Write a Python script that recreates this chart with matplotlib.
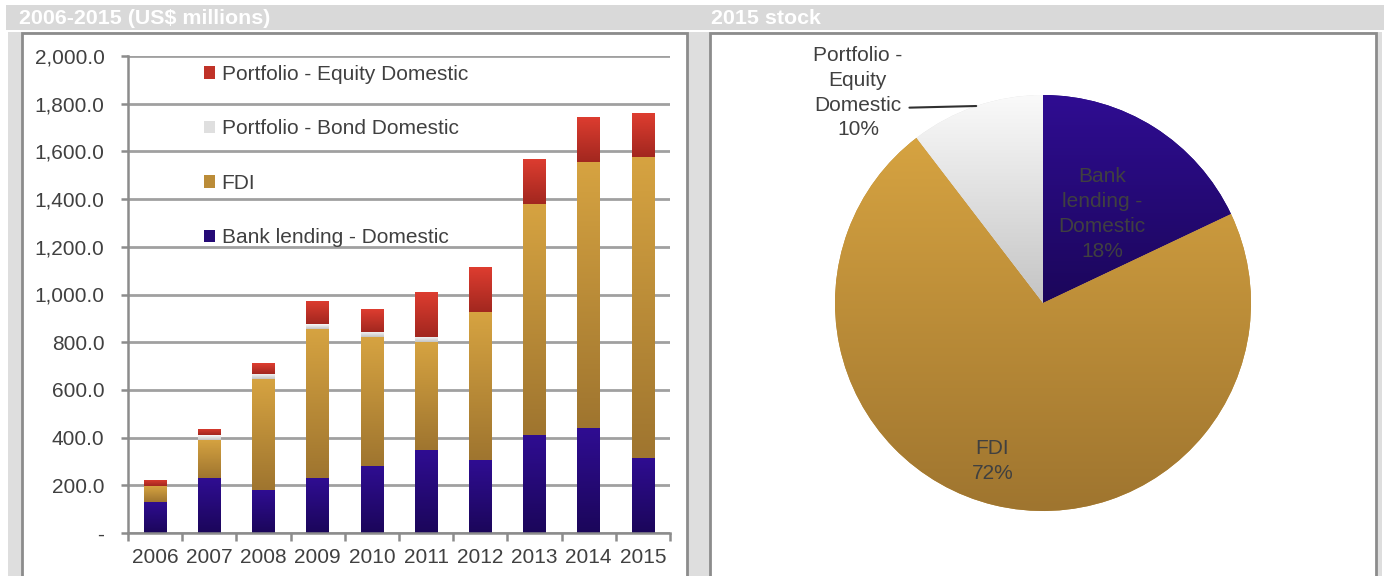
import numpy as np
import matplotlib
matplotlib.use('Agg')
import matplotlib.pyplot as plt
from matplotlib.patches import Rectangle
from matplotlib.colors import LinearSegmentedColormap
from matplotlib.ticker import FuncFormatter, FixedLocator

plt.rcParams['font.family'] = ['Liberation Sans', 'DejaVu Sans']

# data (US$ millions)
years = ['2006', '2007', '2008', '2009', '2010', '2011', '2012', '2013', '2014', '2015']
bank_lending = [130, 230, 180, 230, 281, 348, 306, 411, 440, 316]
fdi = [67, 160, 465, 625, 540, 452, 620, 967, 1114, 1260]
bond = [0, 20, 21, 20, 21, 21, 0, 0, 0, 0]
equity = [27, 26, 46, 97, 96, 189, 188, 189, 189, 183]

series_names = ['Bank lending - Domestic', 'FDI', 'Portfolio - Bond Domestic', 'Portfolio - Equity Domestic']
pie_names = ['Bank\nlending -\nDomestic', 'FDI', 'Portfolio -\nEquity\nDomestic']

W, H = 1387, 576
TXT = '#404040'

# (top colour, bottom colour) for the gradient fills
grad_bank = ('#2f0d92', '#1b065a')
grad_fdi = ('#d6a341', '#9f752f')
grad_bond = ('#fafafa', '#c4c4c4')
grad_equity = ('#de3d30', '#a2271f')


def px_box(x0, y0, x1, y1):
    return [x0 / W, 1 - y1 / H, (x1 - x0) / W, (y1 - y0) / H]


def fill_gradient(ax, patch, top, bottom, ext):
    cmap = LinearSegmentedColormap.from_list('g', [bottom, top])
    grad = np.linspace(0, 1, 128).reshape(-1, 1)
    im = ax.imshow(grad, cmap=cmap, extent=ext, origin='lower', aspect='auto',
                   interpolation='bilinear', zorder=patch.get_zorder() + 0.1)
    im.set_clip_path(patch)


fig = plt.figure(figsize=(W / 100, H / 100), dpi=100)
fig.patch.set_facecolor('white')

# page furniture: header band, grey surround, white boxes
fig.add_artist(Rectangle((6 / W, 1 - 30 / H), 1378 / W, 25 / H, transform=fig.transFigure,
                         facecolor='#d9d9d9', edgecolor='none', zorder=-3))
fig.add_artist(Rectangle((8 / W, 0), 1374 / W, 1 - 32 / H, transform=fig.transFigure,
                         facecolor='#dedede', edgecolor='none', zorder=-3))
for x0, x1 in [(22, 687), (710, 1376)]:
    fig.add_artist(Rectangle((x0 / W, -0.01), (x1 - x0) / W, 1 - 33 / H + 0.01, transform=fig.transFigure,
                             facecolor='white', edgecolor='#8c8c8c', linewidth=2, zorder=-2))
fig.text(19 / W, 1 - 18 / H, '2006-2015 (US$ millions)', color='white', fontweight='bold',
         fontsize=15.4, va='center', ha='left')
fig.text(711 / W, 1 - 18 / H, '2015 stock', color='white', fontweight='bold',
         fontsize=15.4, va='center', ha='left')

# ---- stacked bars ----
ax = fig.add_axes(px_box(128, 56, 670, 533))
ax.patch.set_alpha(0)
x = np.arange(len(years))
width = 0.42
stack = [(bank_lending, grad_bank), (fdi, grad_fdi), (bond, grad_bond), (equity, grad_equity)]
bottom = np.zeros(len(years))
handles = []
for (vals, (top_c, bot_c)), name in zip(stack, series_names):
    mid = LinearSegmentedColormap.from_list('m', [bot_c, top_c])(0.5)
    bars = ax.bar(x, vals, width, bottom=bottom, color=mid, edgecolor='none', label=name, zorder=3)
    for b in bars:
        if b.get_height() > 0:
            fill_gradient(ax, b, top_c, bot_c,
                          [b.get_x(), b.get_x() + b.get_width(), b.get_y(), b.get_y() + b.get_height()])
    handles.append(bars)
    bottom = bottom + np.array(vals)

ax.set_xlim(-0.5, len(years) - 0.5)
ax.set_ylim(0, 2000)
ax.set_yticks(np.arange(0, 2001, 200))
ax.yaxis.set_major_formatter(FuncFormatter(lambda v, p: '-' if v == 0 else f'{v:,.1f}'))
ax.set_xticks(x)
ax.set_xticklabels(years)
ax.xaxis.set_minor_locator(FixedLocator(np.arange(-0.5, len(years), 1.0)))
ax.tick_params(axis='x', which='major', length=0, pad=11, labelsize=15, labelcolor=TXT)
ax.tick_params(axis='x', which='minor', length=6, width=1.8, color='#8c8c8c', direction='out')
ax.tick_params(axis='y', length=5, width=1.8, color='#8c8c8c', pad=12, labelsize=15, labelcolor=TXT)
ax.grid(axis='y', color='#a0a0a0', linewidth=2, zorder=1)
ax.set_axisbelow(True)
for s in ['top', 'right']:
    ax.spines[s].set_visible(False)
for s in ['left', 'bottom']:
    ax.spines[s].set_color('#8c8c8c')
    ax.spines[s].set_linewidth(1.8)
    ax.spines[s].set_zorder(5)

leg = ax.legend(handles[::-1], series_names[::-1], loc='upper left',
                bbox_to_anchor=(204 / W, 1 - 65 / H), bbox_transform=fig.transFigure,
                frameon=False, fontsize=15, labelcolor=TXT, handlelength=0.55, handleheight=0.55,
                handletextpad=0.3, labelspacing=1.7, borderpad=0, borderaxespad=0)

# ---- pie of 2015 stock ----
pie_vals = [bank_lending[-1], fdi[-1], equity[-1]]
pie_grads = [grad_bank, grad_fdi, grad_bond]
pax = fig.add_axes(px_box(835, 95, 1251, 511))
pax.patch.set_alpha(0)
wedges, _ = pax.pie(pie_vals, startangle=90, counterclock=False, radius=1,
                    colors=[LinearSegmentedColormap.from_list('m', [g[1], g[0]])(0.5) for g in pie_grads],
                    wedgeprops=dict(edgecolor='none'))
for w, (top_c, bot_c) in zip(wedges, pie_grads):
    ext = w.get_path().get_extents()
    fill_gradient(pax, w, top_c, bot_c, [ext.x0, ext.x1, ext.y0, ext.y1])
pax.set_aspect('auto')
pax.set_xlim(-1, 1)
pax.set_ylim(-1, 1)
pax.axis('off')

shares = np.array(pie_vals) / sum(pie_vals) * 100
mids = [np.deg2rad((w.theta1 + w.theta2) / 2) for w in wedges]
# bank and FDI labels inside their slices
for i, r, dx, dy in [(0, 0.53, 0.0, -0.02), (1, 0.78, -0.06, 0.0)]:
    pax.text(r * np.cos(mids[i]) + dx, r * np.sin(mids[i]) + dy, f'{pie_names[i]}\n{shares[i]:.0f}%',
             ha='center', va='center', fontsize=15, color=TXT, linespacing=1.38)
# equity label outside with a leader line
edge = (1.0 * np.cos(mids[2]), 1.0 * np.sin(mids[2]))
pax.annotate(f'{pie_names[2]}\n{shares[2]:.0f}%', xy=edge, xytext=(-0.89, 1.01),
             ha='center', va='center', fontsize=15, color=TXT, linespacing=1.38,
             annotation_clip=False,
             arrowprops=dict(arrowstyle='-', color='#303030', lw=1.5, relpos=(1.0, 0.34),
                             shrinkA=3, shrinkB=0))

fig.savefig('out.png', dpi=100)
